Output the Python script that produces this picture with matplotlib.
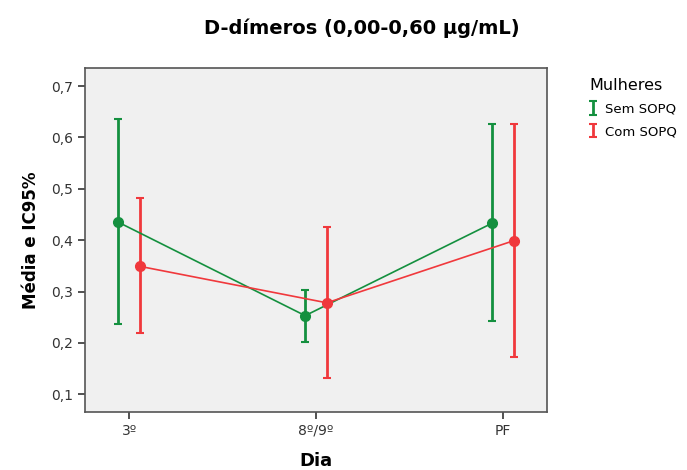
import numpy as np
import matplotlib.pyplot as plt
from matplotlib.ticker import FuncFormatter

plt.rcParams['font.family'] = ['DejaVu Sans']

# dados
dias = ["3º", "8º/9º", "PF"]
sem_media = [0.435, 0.253, 0.433]
sem_inf = [0.236, 0.202, 0.243]
sem_sup = [0.636, 0.303, 0.626]
com_media = [0.349, 0.278, 0.399]
com_inf = [0.219, 0.131, 0.173]
com_sup = [0.482, 0.426, 0.626]

verde = "#14903f"
vermelho = "#f0383c"

fig = plt.figure(figsize=(6.87, 4.70), dpi=100)
ax = fig.add_axes([0.124, 0.123, 0.672, 0.732])
ax.set_facecolor("#f0f0f0")

x = np.arange(len(dias))
desloc = 0.058

for medias, inf, sup, cor, nome, d in [
    (sem_media, sem_inf, sem_sup, verde, "Sem SOPQ", -desloc),
    (com_media, com_inf, com_sup, vermelho, "Com SOPQ", desloc),
]:
    medias = np.array(medias)
    erro = [medias - np.array(inf), np.array(sup) - medias]
    ax.plot(x + d, medias, color=cor, lw=1.2, marker="o", ms=7, zorder=3)
    ax.errorbar(x + d, medias, yerr=erro, fmt="none", ecolor=cor,
                elinewidth=2, capsize=3, capthick=1.5, label=nome, zorder=2)

ax.set_xlim(-0.235, 2.235)
ax.set_ylim(0.065, 0.735)
ax.set_xticks(x)
ax.set_xticklabels(dias)
ax.set_yticks(np.arange(0.1, 0.71, 0.1))
ax.yaxis.set_major_formatter(FuncFormatter(lambda v, p: f"{v:.1f}".replace(".", ",")))
ax.tick_params(labelsize=10, colors="#333333", length=5, width=1.2)
for s in ax.spines.values():
    s.set_color("#555555")
    s.set_linewidth(1.2)

ax.set_xlabel("Dia", fontsize=13, fontweight="bold", labelpad=10)
ax.set_ylabel("Média e IC95%", fontsize=12, fontweight="bold", labelpad=8)
fig.text(0.527, 0.94, "D-dímeros (0,00-0,60 µg/mL)", ha="center", va="center",
         fontsize=14, fontweight="bold")

leg = fig.legend(loc="upper left", bbox_to_anchor=(0.84, 0.86), frameon=False,
                 title="Mulheres", fontsize=9.5, title_fontsize=11.5,
                 handlelength=0.6, handletextpad=0.6, labelspacing=0.75)
leg._legend_box.align = "left"

fig.savefig("out.png", dpi=100)
